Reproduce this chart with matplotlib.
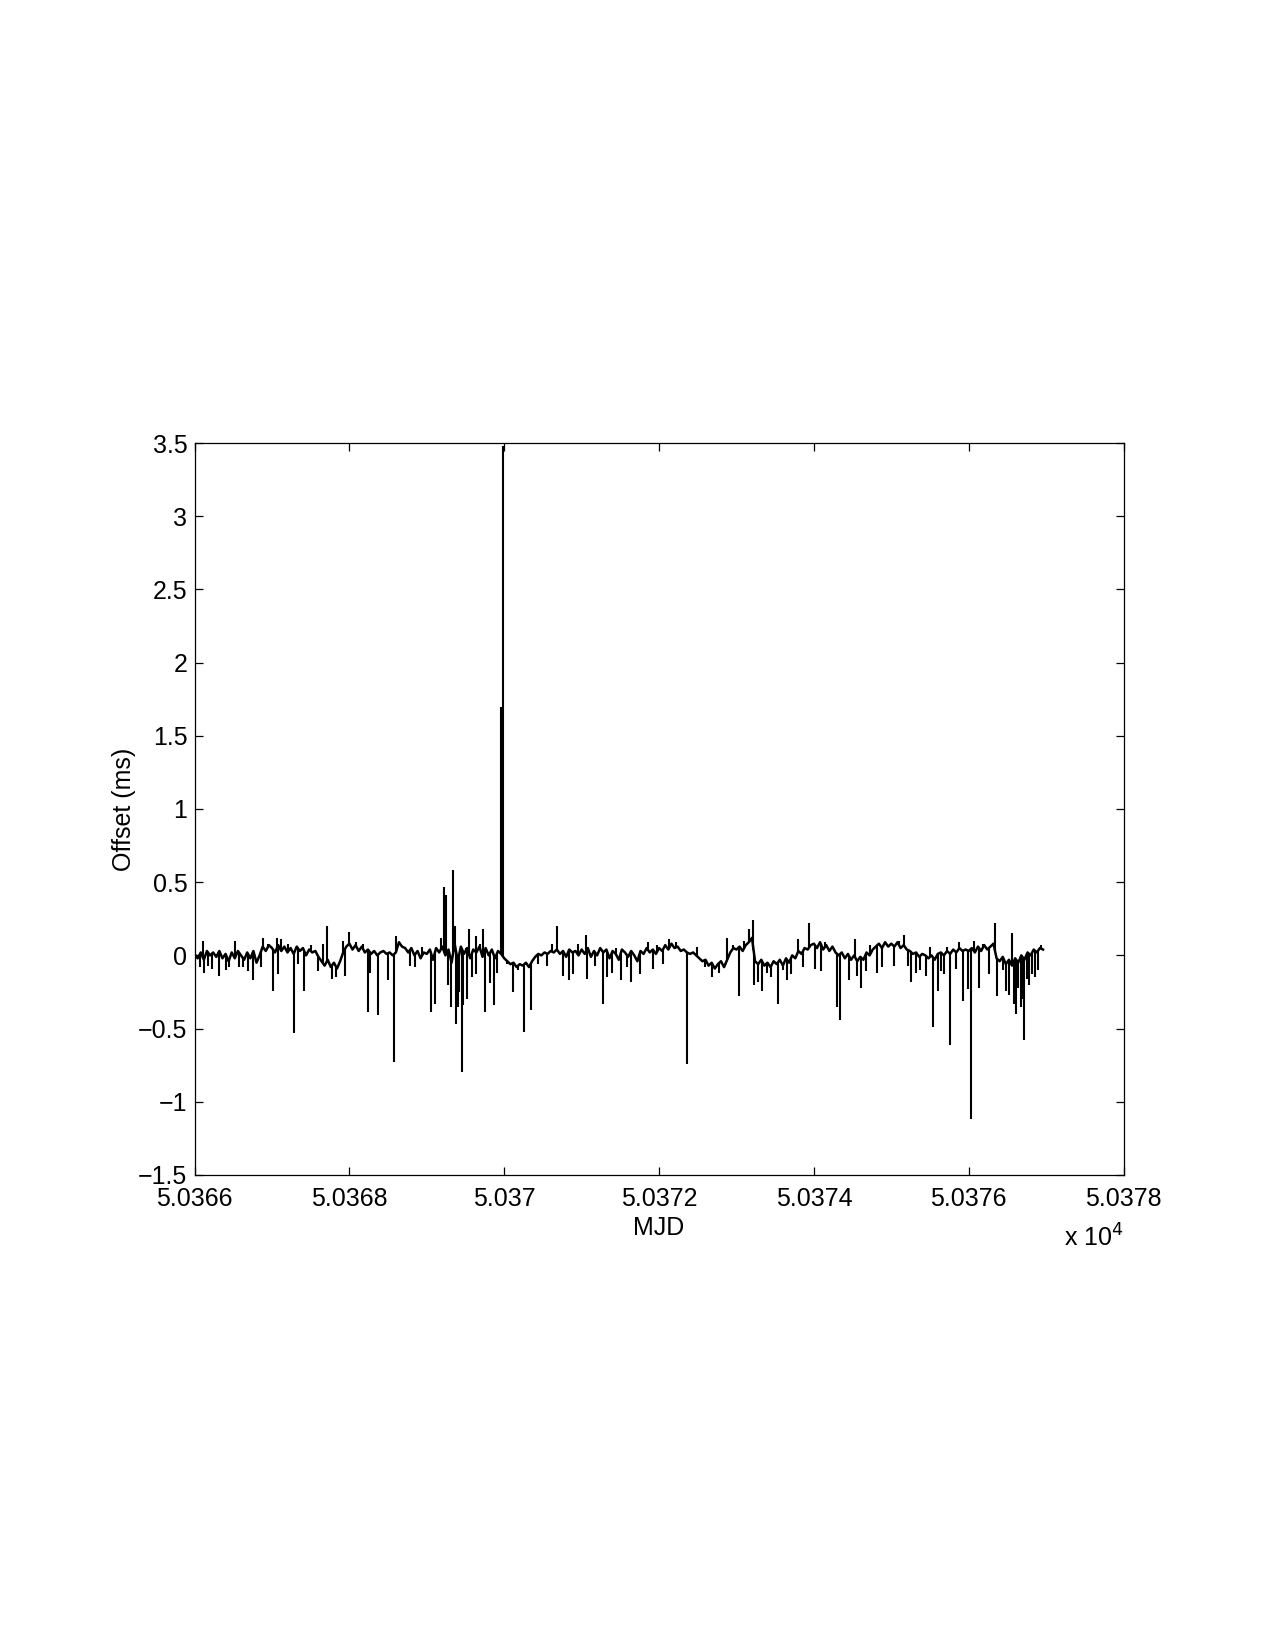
import matplotlib
matplotlib.use("Agg")
import matplotlib.pyplot as plt
from matplotlib.ticker import FuncFormatter
import numpy as np

plt.rcParams["font.family"] = ["Liberation Sans", "DejaVu Sans"]
plt.rcParams["font.size"] = 12

# clock offset (ms): slowly wandering level, one row per MJD day,
# 25 samples a day (0.04 d apart)
day_start = [50366, 50367, 50368, 50369, 50370, 50371,
             50372, 50373, 50374, 50375, 50376]
offset_by_day = [
    [0.01, -0.02, 0.02, -0.03, 0.03, 0.00, 0.02, -0.01, 0.03, -0.02, 0.01, -0.04, 0.02,
     -0.02, 0.03, 0.00, -0.03, 0.02, -0.02, 0.03, -0.05, 0.00, 0.06, 0.03, 0.07],
    [0.05, 0.02, 0.07, 0.03, 0.06, 0.02, 0.05, 0.01, 0.06, 0.03, 0.05, 0.00, 0.04,
     0.02, 0.03, -0.01, -0.04, -0.07, -0.03, -0.08, -0.05, -0.09, -0.04, 0.02, 0.06],
    [0.08, 0.04, 0.07, 0.03, 0.06, 0.02, 0.04, 0.01, 0.03, 0.00, 0.02, 0.03, 0.01,
     0.02, 0.00, 0.02, 0.09, 0.06, 0.05, 0.02, 0.05, 0.00, 0.03, -0.02, 0.02],
    [0.01, 0.04, -0.03, 0.05, 0.02, 0.06, 0.00, 0.04, -0.05, 0.08, -0.04, 0.06, 0.01,
     0.05, -0.02, 0.04, 0.02, 0.06, -0.01, 0.05, 0.00, 0.04, -0.02, 0.03, 0.01],
    [-0.02, -0.04, -0.06, -0.05, -0.08, -0.06, -0.07, -0.05, -0.08, -0.04, -0.01, 0.01, 0.00,
     0.02, 0.01, 0.03, 0.02, 0.04, 0.01, 0.03, -0.01, 0.04, 0.02, 0.03, 0.00],
    [0.04, 0.01, 0.05, -0.01, 0.03, 0.00, 0.05, 0.02, 0.04, -0.02, 0.03, 0.01, -0.03,
     0.04, 0.02, -0.01, 0.03, 0.00, -0.04, 0.03, 0.01, 0.05, 0.02, 0.04, 0.01],
    [0.05, 0.03, 0.07, 0.04, 0.08, 0.05, 0.06, 0.03, 0.04, 0.02, 0.01, 0.02, 0.00,
     -0.02, -0.04, -0.03, -0.07, -0.05, -0.09, -0.06, -0.04, -0.08, -0.03, 0.02, 0.05],
    [0.04, 0.06, 0.03, 0.07, 0.09, 0.12, -0.04, -0.06, -0.03, -0.07, -0.05, -0.08, -0.04,
     -0.06, -0.03, -0.07, -0.02, -0.05, 0.00, -0.02, 0.03, 0.01, 0.05, 0.04, 0.07],
    [0.08, 0.05, 0.09, 0.04, 0.07, 0.03, 0.06, 0.02, 0.00, 0.02, -0.02, 0.01, -0.03,
     0.00, -0.04, -0.01, -0.03, 0.02, 0.00, 0.04, 0.06, 0.08, 0.05, 0.09, 0.06],
    [0.08, 0.06, 0.09, 0.05, 0.07, 0.04, 0.03, 0.01, 0.02, -0.01, 0.01, 0.00, -0.02,
     0.00, -0.03, 0.01, 0.02, 0.00, 0.03, 0.01, 0.04, 0.02, 0.05, 0.03, 0.04],
    [0.03, 0.05, 0.02, 0.06, 0.03, 0.07, 0.04, 0.06, 0.08, -0.02, -0.04, -0.01, -0.06,
     -0.03, -0.07, -0.02, -0.05, 0.00, -0.03, 0.02, 0.00, 0.04, 0.02, 0.05, 0.04],
]
samples_per_day = 25

# large single-sample outliers (MJD, offset in ms)
spike_mjd = [50366.11, 50366.12, 50366.23, 50366.31, 50366.40, 50366.52, 50366.58,
             50366.76, 50366.88, 50367.01, 50367.06, 50367.08, 50367.12, 50367.29,
             50367.42, 50367.60, 50367.71, 50367.78, 50367.83, 50367.94, 50368.00,
             50368.24, 50368.27, 50368.37, 50368.50, 50368.58, 50368.60, 50368.85,
             50369.05, 50369.11, 50369.18, 50369.22, 50369.25, 50369.31, 50369.34,
             50369.36, 50369.38, 50369.40, 50369.45, 50369.47, 50369.52, 50369.55,
             50369.63, 50369.73, 50369.75, 50369.81, 50369.87, 50369.96, 50369.99,
             50370.11, 50370.25, 50370.34, 50370.68, 50370.76, 50370.84, 50371.06,
             50371.07, 50371.27, 50371.33, 50371.51, 50371.64, 50371.75, 50372.13,
             50372.36, 50372.69, 50372.88, 50373.03, 50373.16, 50373.22, 50373.23,
             50373.33, 50373.45, 50373.54, 50373.70, 50373.94, 50374.09, 50374.30,
             50374.34, 50374.45, 50374.53, 50374.61, 50374.81, 50375.16, 50375.26,
             50375.37, 50375.45, 50375.54, 50375.60, 50375.68, 50375.76, 50375.93,
             50375.99, 50376.03, 50376.13, 50376.26, 50376.34, 50376.36, 50376.48,
             50376.56, 50376.58, 50376.61, 50376.67, 50376.72, 50376.75, 50376.82]
spike_offset = [0.10, -0.12, -0.09, -0.14, -0.10, 0.10, -0.08,
                -0.17, 0.12, -0.24, 0.12, -0.13, 0.11, -0.53,
                -0.24, -0.11, 0.20, -0.16, -0.15, -0.14, 0.16,
                -0.39, -0.12, -0.41, -0.17, -0.73, 0.13, -0.08,
                -0.39, -0.33, 0.12, 0.47, 0.41, -0.35, 0.58,
                0.20, -0.47, -0.35, -0.80, -0.34, -0.30, 0.18,
                -0.13, 0.18, -0.39, -0.19, -0.34, 1.70, 3.48,
                -0.25, -0.52, -0.37, 0.20, -0.14, -0.17, 0.14,
                -0.16, -0.33, -0.15, -0.17, -0.18, -0.13, 0.11,
                -0.74, -0.15, 0.12, -0.28, 0.18, 0.24, -0.20,
                -0.24, -0.15, -0.33, -0.13, 0.22, -0.11, -0.35,
                -0.44, -0.17, 0.11, -0.22, -0.12, 0.14, -0.18,
                -0.10, -0.14, -0.49, -0.24, -0.13, -0.61, -0.31,
                -0.23, -1.12, -0.22, -0.13, 0.22, -0.28, -0.24,
                0.15, -0.33, -0.40, -0.35, -0.58, -0.16, -0.13]

# smaller outliers that thicken the band
small_mjd = [50366.07, 50366.17, 50366.45, 50366.62, 50366.69, 50366.86, 50366.95,
             50367.21, 50367.34, 50367.50, 50367.66, 50367.92, 50368.09, 50368.18,
             50368.70, 50368.78, 50368.94, 50369.28, 50369.42, 50369.50, 50369.59,
             50369.64, 50369.69, 50369.91, 50370.04, 50370.18, 50370.44, 50370.55,
             50370.62, 50370.89, 50370.95, 50371.17, 50371.39, 50371.45, 50371.58,
             50371.86, 50371.92, 50371.98, 50372.05, 50372.22, 50372.49, 50372.59,
             50372.77, 50372.95, 50373.10, 50373.28, 50373.40, 50373.60, 50373.65,
             50373.80, 50373.86, 50374.02, 50374.14, 50374.56, 50374.67, 50374.73,
             50374.88, 50374.92, 50375.03, 50375.10, 50375.21, 50375.32, 50375.50,
             50375.64, 50375.72, 50375.84, 50375.88, 50376.07, 50376.19, 50376.44,
             50376.52, 50376.64, 50376.69, 50376.78, 50376.86, 50376.90, 50376.94]
small_offset = [-0.08, -0.07, -0.08, -0.08, -0.11, -0.08, 0.08,
                0.08, -0.06, 0.07, 0.08, 0.10, 0.09, 0.08,
                0.05, -0.07, 0.06, -0.20, -0.25, 0.05, -0.15,
                0.13, 0.08, -0.12, -0.06, -0.10, -0.06, -0.07,
                0.08, -0.13, 0.08, -0.07, -0.12, 0.05, -0.08,
                0.09, -0.09, 0.07, -0.06, 0.09, 0.06, -0.08,
                -0.12, 0.07, 0.10, -0.18, -0.12, -0.10, -0.17,
                0.11, -0.08, -0.09, 0.09, -0.14, -0.11, 0.07,
                -0.08, 0.09, -0.07, 0.10, -0.07, -0.12, 0.06,
                -0.11, 0.06, -0.09, 0.09, 0.10, 0.08, -0.10,
                -0.27, -0.22, -0.30, -0.20, -0.15, -0.10, 0.07]

mjd = []
offset = []
for d, vals in zip(day_start, offset_by_day):
    for k, v in enumerate(vals):
        mjd.append(d + k / samples_per_day)
        offset.append(v)

fig = plt.figure(figsize=(8.5, 11), dpi=150)
ax = fig.add_axes([0.1526, 0.2879, 0.7286, 0.4436])
ax.plot(mjd, offset, color="black", linewidth=1.2)
for sx, sy in ((spike_mjd, spike_offset), (small_mjd, small_offset)):
    base = np.interp(sx, mjd, offset)
    ax.vlines(sx, base, sy, color="black", linewidth=1.0)

ax.set_xlim(50366, 50378)
ax.set_ylim(-1.5, 3.5)
ax.set_xticks(np.arange(50366, 50379, 2))
ax.set_yticks(np.arange(-1.5, 3.51, 0.5))
ax.xaxis.set_major_formatter(FuncFormatter(lambda v, p: f"{v / 1e4:g}"))
ax.yaxis.set_major_formatter(FuncFormatter(lambda v, p: f"{v:g}".replace("-", "\u2212")))
ax.tick_params(direction="in", top=True, right=True, length=3.7, width=0.6, labelsize=12)
ax.tick_params(axis="x", pad=6)
for s in ax.spines.values():
    s.set_linewidth(0.6)

ax.set_xlabel("MJD", labelpad=2)
ax.set_ylabel("Offset (ms)", labelpad=1)
ax.text(1.0, -0.086, r"x 10$^{4}$", transform=ax.transAxes, ha="right", va="center",
        fontsize=12)

fig.savefig("out.png", dpi=150)
